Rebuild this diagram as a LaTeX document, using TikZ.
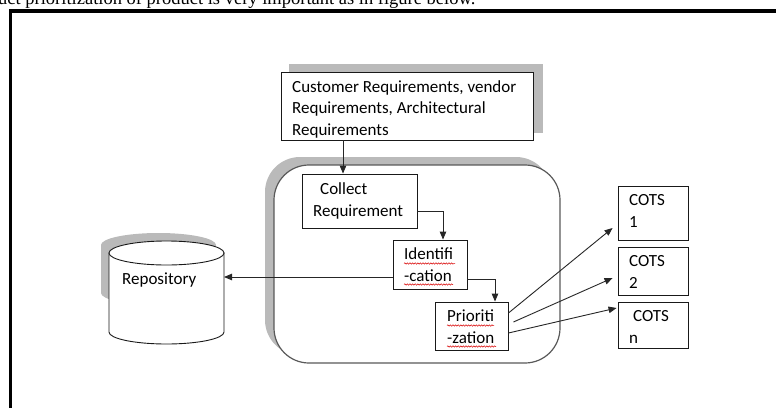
\documentclass[tikz,border=0pt]{standalone}
\usepackage{fontspec}
\setmainfont{Carlito}
\newfontfamily\bodyfont{Liberation Serif}
\usetikzlibrary{arrows.meta,decorations.pathmorphing}

\tikzset{
  box/.style={draw=black!90, line width=0.9pt, fill=white, inner sep=0pt},
  txt/.style={font=\fontsize{17}{21.5}\selectfont, align=left, inner sep=0pt, anchor=base west},
  link/.style={draw=black!85, line width=0.9pt, -{Triangle[length=8pt,width=6.5pt]}},
  shade/.style={fill=black!27, draw=none},
  squiggle/.style={draw=red!85!black, line width=0.5pt, decorate,
    decoration={snake, amplitude=0.7pt, segment length=2.6pt}}
}

\begin{document}
\begin{tikzpicture}[x=1pt, y=-1pt]
	\useasboundingbox (0,0) rectangle (776,407);
	\clip (0,0) rectangle (776,407);
	% running text above and the frame
	\node[anchor=base west, inner sep=0pt, font=\bodyfont\fontsize{18.5}{20}\selectfont] (caption) at (-2,4.5) {uct prioritization of product is very important as in figure below.};
	\draw[line width=3.6pt] (10.5,420) -- (10.5,11) -- (790,11);
	% grey shadows
	\fill[shade] (289,64) rectangle (543,133);
	\fill[shade, rounded corners=35pt] (265,157) rectangle (551,355);
	\fill[shade] (158.5,245) ellipse [x radius=57.5pt, y radius=12pt];
	\fill[shade] (101,245) rectangle (216,293);
	\fill[shade] (158.5,293) ellipse [x radius=57.5pt, y radius=12pt];
	% process frame
	\node[draw=black!65, line width=1.2pt, fill=white, rounded corners=35pt, minimum width=286pt, minimum height=198pt] (phase) at (417,264) {};
	% repository
	\filldraw[draw=black!90, line width=0.9pt, fill=white] (109,253) -- (109,332) arc [start angle=180, end angle=360, x radius=57.5pt, y radius=12pt] -- (224,253) -- cycle;
	\draw[black!90, line width=0.9pt, fill=white] (166.5,253) ellipse [x radius=57.5pt, y radius=12pt];
	\coordinate (repoend) at (224,277);
	\node[txt] (repotxt) at (122,284) {Repository};
	% boxes
	\node[box, minimum width=252pt, minimum height=68pt] (req) at (407,106) {};
	\node[box, minimum width=115pt, minimum height=54pt] (collect) at (359.5,201) {};
	\node[box, minimum width=74pt, minimum height=49pt] (ident) at (430,264.5) {};
	\node[box, minimum width=73pt, minimum height=48pt] (prior) at (471.5,326) {};
	\node[box, minimum width=70pt, minimum height=54pt] (cots1) at (653,213) {};
	\node[box, minimum width=70pt, minimum height=48pt] (cots2) at (653,271) {};
	\node[box, minimum width=70pt, minimum height=46pt] (cotsn) at (653,325) {};
	% texts (placed by the baseline of their last line)
	\node[txt] (reqtxt) at (292,135) {Customer Requirements, vendor\\Requirements, Architectural\\Requirements};
	\node[txt] (collecttxt) at (313,216) {\hspace*{7pt}Collect\\Requirement};
	\node[txt] (identtxt) at (404,281) {Identifi\\-cation};
	\node[txt] (priortxt) at (447,343) {Prioriti\\-zation};
	\node[txt, font=\fontsize{17}{22}\selectfont] (cots1txt) at (629,227) {COTS\\1};
	\node[txt, font=\fontsize{17}{22}\selectfont] (cots2txt) at (629,288) {COTS\\2};
	\node[txt] (cotsntxt) at (629,343) {\hspace*{4pt}COTS\\n};
	% spelling marks
	\draw[squiggle] (404,263.5) -- (455,263.5);
	\draw[squiggle] (404,284.5) -- (453,284.5);
	\draw[squiggle] (447,325.5) -- (494,325.5);
	\draw[squiggle] (447,346.5) -- (496,346.5);
	% connectors
	\draw[link] (343,0 |- req.south) -- (343,0 |- collect.north);
	\draw[link] (collect.east |- 0,211) -| (443,0 |- ident.north);
	\draw[link] (ident.east |- 0,279) -| (495,0 |- prior.north);
	\draw[link] (ident.west |- 0,277) -- (repoend);
	\draw[link] ([yshift=13pt]prior.east) -- ([shift={(-5pt,-15pt)}]cots1.west);
	\draw[link] ([shift={(5pt,4pt)}]prior.east) -- ([shift={(-5pt,-7pt)}]cots2.west);
	\draw[link] ([yshift=-7pt]prior.east) -- ([shift={(-1pt,17pt)}]cotsn.west);
\end{tikzpicture}
\end{document}
